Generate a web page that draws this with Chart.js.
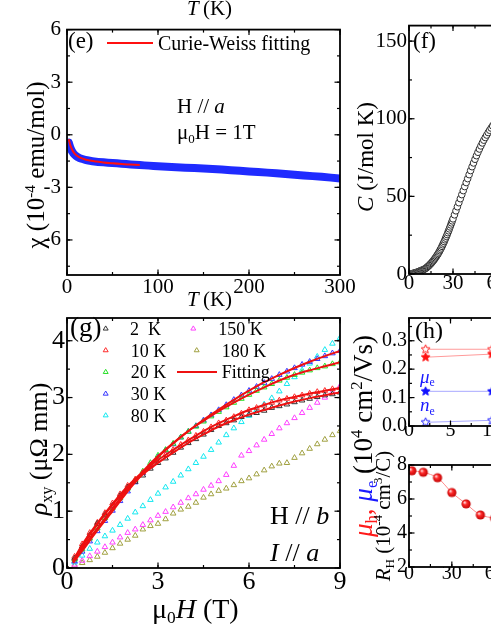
<!DOCTYPE html>
<html><head><meta charset="utf-8">
<script src="https://cdn.jsdelivr.net/npm/chart.js@4.4.0/dist/chart.umd.min.js"></script>
<style>
html,body{margin:0;padding:0;background:#fff;overflow:hidden;}
#wrap{position:relative;width:491px;height:635px;overflow:hidden;background:#fff;}
canvas{position:absolute;}
.t{position:absolute;white-space:nowrap;font-family:"Liberation Serif","Times New Roman",serif;line-height:1;color:#000;}
.t sup{font-size:0.62em;position:relative;top:-0.55em;vertical-align:baseline;line-height:0;}
.t sub{font-size:0.62em;position:relative;top:0.32em;vertical-align:baseline;line-height:0;}
</style></head>
<body><div id="wrap"></div>
<script>
// ---------------- DATA ----------------
// (e) susceptibility
const eT   = [2,3,4,5,6,7,8,10,12,15,20,25,30,40,50,60,70,80,90,100,120,140,160,180,200,220,240,260,280,300];
const eChi = [-0.45,-0.62,-0.77,-0.89,-0.98,-1.06,-1.12,-1.21,-1.28,-1.36,-1.43,-1.48,-1.52,-1.57,-1.61,-1.65,-1.69,-1.73,-1.76,-1.79,-1.85,-1.90,-1.95,-2.02,-2.09,-2.16,-2.24,-2.32,-2.40,-2.49];
const eFitT   = [2,3,4,5,6,8,10,12,15,20,25,30,40,50,60,70,80];
const eFitChi = [-0.26,-0.48,-0.65,-0.78,-0.89,-1.04,-1.15,-1.23,-1.32,-1.41,-1.47,-1.51,-1.58,-1.63,-1.67,-1.70,-1.73];
const eXTicks = [0,100,200,300];
const eYTicks = [-6,-3,0,3,6];

// (f) specific heat
const fT = [0.5,1,1.5,2,2.5,3,3.5,4,4.5,5,5.5,6,6.5,7,7.5,8,8.5,9,9.5,10,10.5,11,11.5,12,12.5,13,13.5,14,14.5,15,15.5,16,16.5,17,17.5,18,18.5,19,19.5,20,20.5,21,21.5,22,22.5,23,23.5,24,24.5,25,25.5,26,26.5,27,27.5,28,28.5,29,29.5,30,31,32,33,34,35,36,37,38,39,40,41,42,43,44,45,46,47,48,49,50,51,52,53,54,55,56,57,58,59,60];
const fC = [0.05,0.1,0.15,0.2,0.3,0.4,0.55,0.7,0.85,1.0,1.15,1.3,1.5,1.7,1.9,2.1,2.3,2.5,2.7,2.9,3.15,3.4,3.75,4.1,4.5,4.9,5.35,5.8,6.3,6.8,7.35,7.9,8.5,9.1,9.75,10.4,11.1,11.8,12.55,13.3,14.15,15.0,15.9,16.8,17.8,18.8,19.85,20.9,22.0,23.1,24.25,25.4,26.6,27.8,29.05,30.3,31.6,32.9,34.2,35.5,38.1,40.7,43.3,45.9,48.5,51.1,53.7,56.3,58.9,61.4,64.0,66.6,69.1,71.5,73.9,76.2,78.4,80.5,82.5,84.4,86.2,87.9,89.5,91.1,92.6,94.0,95.4,96.7,98.0,99.2];
const fXTicks = [0,30,60,90,120,150,180];
const fYTicks = [0,50,100,150];

// (g) Hall resistivity
const gH = [0,0.25,0.5,0.75,1,1.25,1.5,1.75,2,2.25,2.5,2.75,3,3.25,3.5,3.75,4,4.25,4.5,4.75,5,5.25,5.5,5.75,6,6.25,6.5,6.75,7,7.25,7.5,7.75,8,8.25,8.5,8.75,9];
const rho2K   = [0,0.17,0.38,0.58,0.78,0.94,1.10,1.27,1.42,1.52,1.63,1.75,1.85,1.93,2.03,2.12,2.20,2.27,2.35,2.43,2.50,2.55,2.60,2.66,2.70,2.73,2.77,2.82,2.85,2.88,2.92,2.95,2.98,3.01,3.04,3.06,3.09];
const rho10K  = [0,0.20,0.42,0.62,0.80,0.97,1.14,1.30,1.45,1.56,1.68,1.80,1.90,1.99,2.08,2.17,2.25,2.33,2.40,2.48,2.55,2.60,2.66,2.72,2.78,2.82,2.86,2.91,2.95,2.98,3.01,3.04,3.07,3.10,3.12,3.15,3.17];
const rho20K  = [0,0.15,0.33,0.52,0.70,0.88,1.06,1.23,1.40,1.55,1.70,1.85,1.98,2.08,2.19,2.30,2.40,2.49,2.58,2.67,2.75,2.83,2.91,2.98,3.05,3.12,3.18,3.24,3.30,3.35,3.40,3.44,3.48,3.52,3.55,3.59,3.62];
const rho30K  = [0,0.12,0.29,0.47,0.65,0.83,1.01,1.18,1.35,1.51,1.67,1.81,1.95,2.07,2.18,2.30,2.40,2.50,2.60,2.69,2.78,2.87,2.96,3.04,3.12,3.19,3.26,3.33,3.40,3.46,3.52,3.58,3.63,3.68,3.73,3.78,3.82];
const rho80K  = [0,0.10,0.22,0.34,0.45,0.56,0.66,0.76,0.87,0.98,1.09,1.20,1.31,1.42,1.52,1.63,1.74,1.85,1.96,2.08,2.21,2.34,2.46,2.57,2.68,2.78,2.88,2.99,3.11,3.24,3.36,3.48,3.60,3.72,3.84,3.95,4.05];
const rho150K = [0,0.06,0.13,0.21,0.29,0.37,0.45,0.54,0.62,0.68,0.76,0.84,0.92,0.99,1.07,1.15,1.23,1.30,1.38,1.45,1.53,1.64,1.80,1.98,2.06,2.16,2.26,2.36,2.46,2.55,2.64,2.73,2.82,2.91,3.00,3.10,3.20];
const rho180K = [0,0.04,0.09,0.14,0.20,0.27,0.35,0.43,0.50,0.57,0.68,0.74,0.78,0.86,0.96,1.03,1.08,1.15,1.24,1.30,1.36,1.40,1.46,1.53,1.58,1.65,1.72,1.79,1.84,1.85,1.94,2.02,2.10,2.18,2.26,2.34,2.41];
const fitH    = [0.2,0.5,1,1.5,2,2.5,3,3.5,4,4.5,5,5.5,6,6.5,7,7.5,8,8.5,9];
const fit2K   = [0.12,0.38,0.77,1.11,1.41,1.65,1.85,2.03,2.20,2.35,2.49,2.60,2.70,2.78,2.86,2.93,2.99,3.04,3.09];
const fit10K  = [0.13,0.41,0.79,1.13,1.44,1.69,1.90,2.08,2.25,2.41,2.55,2.67,2.78,2.87,2.95,3.01,3.07,3.12,3.17];
const fit20K  = [0.10,0.34,0.70,1.05,1.39,1.70,1.97,2.20,2.41,2.59,2.76,2.91,3.05,3.18,3.30,3.40,3.48,3.55,3.62];
const fit30K  = [0.09,0.30,0.66,1.00,1.35,1.66,1.95,2.19,2.41,2.61,2.79,2.96,3.12,3.27,3.40,3.52,3.63,3.73,3.82];
const gXTicks = [0,3,6,9];
const gYTicks = [0,1,2,3,4];

// (h) mobilities and Hall coefficient
const hT = [2,10];
const muHopen   = [0.270,0.270];
const muHfilled = [0.242,0.253];
const muEfilled = [0.122,0.122];
const nEopen    = [0.013,0.020];
const hXTicks = [0,5,10,15,20,25,30];
const hYTicks = [0,0.1,0.2,0.3];
const rhT = [2,10,20,30,40,50,60];
const rhR = [7.66,7.57,7.25,6.38,5.71,5.06,4.87];
const rXTicks = [0,30,60,90,120,150,180];
const rYTicks = [2,4,6,8];

// ---------------- HELPERS ----------------
const FONT = 'Liberation Serif';
const wrap = document.getElementById('wrap');
const pts = (xs, ys) => xs.map((x, i) => ({x, y: ys[i]}));

function framePlugin(cfg) {
  return {
    id: 'frame_' + cfg.name,
    afterDatasetsDraw(chart) {
      const {ctx, chartArea: a} = chart; const X = chart.scales.x, Y = chart.scales.y;
      ctx.save();
      ctx.strokeStyle = '#000';
      const seg = (x1,y1,x2,y2) => { ctx.beginPath(); ctx.moveTo(x1,y1); ctx.lineTo(x2,y2); ctx.stroke(); };
      const steps = (min, max, st) => { const o=[]; const n0=Math.ceil(min/st-1e-9), n1=Math.floor(max/st+1e-9); for (let k=n0;k<=n1;k++) o.push(k*st); return o; };
      const doX = (vals, len) => vals.forEach(v => { const p = X.getPixelForValue(v); if (p < a.left-0.5 || p > a.right+0.5) return; seg(p,a.bottom,p,a.bottom-len); seg(p,a.top,p,a.top+len); });
      const doY = (vals, len) => vals.forEach(v => { const p = Y.getPixelForValue(v); if (p < a.top-0.5 || p > a.bottom+0.5) return; seg(a.left,p,a.left+len,p); seg(a.right,p,a.right-len,p); });
      ctx.lineWidth = 1.2;
      if (cfg.xMinor) doX(steps(X.min, X.max, cfg.xMinor), 3);
      if (cfg.yMinor) doY(steps(Y.min, Y.max, cfg.yMinor), 3);
      doX(cfg.xMajor, 5.5); doY(cfg.yMajor, 5.5);
      ctx.lineWidth = 1.8;
      ctx.strokeRect(a.left, a.top, a.right-a.left, a.bottom-a.top);
      if (cfg.extra) cfg.extra(ctx, chart);
      ctx.restore();
    }
  };
}

function panel(name, rect, pad, xs, ys, datasets, extra) {
  const c = document.createElement('canvas');
  const W = rect.R - rect.L + pad.l + pad.r, H = rect.B - rect.T + pad.t + pad.b;
  c.width = W; c.height = H;
  c.style.left = (rect.L - pad.l) + 'px'; c.style.top = (rect.T - pad.t) + 'px';
  c.style.width = W + 'px'; c.style.height = H + 'px';
  wrap.appendChild(c);
  const ox = rect.L - pad.l, oy = rect.T - pad.t;
  return new Chart(c, {
    type: 'scatter',
    data: {datasets},
    options: {
      responsive: false, animation: false, devicePixelRatio: 1,
      layout: {padding: {top: pad.t, right: pad.r, left: 0, bottom: 0}},
      plugins: {legend: {display: false}, tooltip: {enabled: false}},
      scales: {
        x: {type: 'linear', min: xs.min, max: xs.max, grid: {display: false, drawTicks: false}, border: {display: false},
            afterBuildTicks: s => { s.ticks = xs.ticks.map(v => ({value: v})); },
            afterFit: s => { s.height = pad.b; },
            ticks: {font: {family: FONT, size: xs.fs}, color: '#000', padding: xs.pad, maxRotation: 0, autoSkip: false,
                    callback: v => xs.fmt ? xs.fmt(v) : String(v)}},
        y: {type: 'linear', min: ys.min, max: ys.max, grid: {display: false, drawTicks: false}, border: {display: false},
            afterBuildTicks: s => { s.ticks = ys.ticks.map(v => ({value: v})); },
            afterFit: s => { s.width = pad.l; },
            ticks: {font: {family: FONT, size: ys.fs}, color: '#000', padding: ys.pad, autoSkip: false,
                    callback: v => ys.fmt ? ys.fmt(v) : String(v)}}
      }
    },
    plugins: [framePlugin({name, xMinor: xs.minor, yMinor: ys.minor, xMajor: xs.ticks, yMajor: ys.ticks,
                           extra: extra ? (ctx, ch) => extra(ctx, ch, ox, oy) : null})]
  });
}

function tri(ctx, x, y, r, color) {
  ctx.save(); ctx.strokeStyle = color; ctx.lineWidth = 1;
  ctx.beginPath(); ctx.moveTo(x, y - r); ctx.lineTo(x + r*0.95, y + r*0.6); ctx.lineTo(x - r*0.95, y + r*0.6); ctx.closePath(); ctx.stroke();
  ctx.restore();
}
function starImg(fill, stroke, r) {
  const s = Math.ceil(r*2 + 3); const c = document.createElement('canvas'); c.width = c.height = s;
  const g = c.getContext('2d'); g.beginPath();
  for (let i = 0; i < 10; i++) { const rr = i % 2 ? r*0.45 : r; const a = -Math.PI/2 + i*Math.PI/5; g.lineTo(s/2 + rr*Math.cos(a), s/2 + rr*Math.sin(a)); }
  g.closePath(); g.fillStyle = fill; g.fill(); g.strokeStyle = stroke; g.lineWidth = 1; g.stroke();
  return c;
}
function sphereImg(r) {
  const s = Math.ceil(r*2 + 2); const c = document.createElement('canvas'); c.width = c.height = s;
  const g = c.getContext('2d'); const m = s/2;
  const gr = g.createRadialGradient(m - r*0.35, m - r*0.35, 0.5, m, m, r);
  gr.addColorStop(0, '#ffd8d8'); gr.addColorStop(0.35, '#ff2a2a'); gr.addColorStop(1, '#c00000');
  g.beginPath(); g.arc(m, m, r, 0, Math.PI*2); g.fillStyle = gr; g.fill();
  return c;
}
function txt(html, x, base, fs, color) {
  const d = document.createElement('div'); d.className = 't'; d.innerHTML = html;
  d.style.left = x + 'px'; d.style.top = (base - 0.8375*fs) + 'px'; d.style.fontSize = fs + 'px';
  if (color) d.style.color = color;
  wrap.appendChild(d);
}

// ---------------- PANEL (e) ----------------
panel('e', {L:67, T:25, R:340, B:275}, {l:67, t:14, r:22, b:30},
  {min:0, max:300, ticks:eXTicks, minor:50, fs:21, pad:0},
  {min:-8, max:6, ticks:eYTicks, minor:1.5, fs:21, pad:6},
  [
    {data: pts(eFitT, eFitChi), showLine: true, borderColor: '#ff1010', borderWidth: 2, pointRadius: 0, tension: 0.4},
    {data: pts(eT, eChi), showLine: true, borderColor: '#1f2bff', borderWidth: 8, pointRadius: 0, tension: 0.3, borderCapStyle: 'round', borderJoinStyle: 'round'}
  ],
  (ctx, ch, ox, oy) => { ctx.strokeStyle = '#ff1010'; ctx.lineWidth = 2; ctx.beginPath(); ctx.moveTo(107-ox, 43-oy); ctx.lineTo(153-ox, 43-oy); ctx.stroke(); }
);

// ---------------- PANEL (f) ----------------
panel('f', {L:409, T:25, R:409+264, B:274}, {l:50, t:14, r:20, b:30},
  {min:0, max:180, ticks:fXTicks, minor:15, fs:21, pad:-3},
  {min:0, max:160, ticks:fYTicks, minor:25, fs:21, pad:2},
  [
    {data: pts(fT, fC), showLine: false, pointStyle: 'circle', pointRadius: 3.3, borderWidth: 1, borderColor: '#2e2e2e', backgroundColor: '#ffffff'}
  ]
);

// ---------------- PANEL (g) ----------------
const gCols = {k2:'#333333', k10:'#ff2a2a', k20:'#26e026', k30:'#3535ff', k80:'#12e8f0', k150:'#ff40ff', k180:'#a0a040'};
const triDs = (ys, col) => ({data: pts(gH, ys), showLine: false, pointStyle: 'triangle', pointRadius: 3.2, borderWidth: 1, borderColor: col, backgroundColor: 'rgba(0,0,0,0)'});
const fitDs = ys => ({data: pts(fitH, ys), showLine: true, borderColor: '#ee1111', borderWidth: 2, pointRadius: 0, cubicInterpolationMode: 'monotone'});
panel('g', {L:67, T:318, R:340, B:568}, {l:67, t:18, r:20, b:30},
  {min:0, max:9, ticks:gXTicks, minor:1.5, fs:26, pad:-1},
  {min:0, max:4.4, ticks:gYTicks, minor:0.5, fs:26, pad:2},
  [
    fitDs(fit30K), fitDs(fit20K), fitDs(fit10K), fitDs(fit2K),
    triDs(rho2K, gCols.k2), triDs(rho10K, gCols.k10), triDs(rho20K, gCols.k20), triDs(rho30K, gCols.k30),
    triDs(rho80K, gCols.k80), triDs(rho150K, gCols.k150), triDs(rho180K, gCols.k180)
  ],
  (ctx, ch, ox, oy) => {
    const rows = [328.5, 350.2, 371.9, 393.6, 415.3];
    [gCols.k2, gCols.k10, gCols.k20, gCols.k30, gCols.k80].forEach((c, i) => tri(ctx, 105.7-ox, rows[i]-oy, 2.6, c));
    tri(ctx, 193.3-ox, rows[0]-oy, 2.6, gCols.k150);
    tri(ctx, 196.7-ox, rows[1]-oy, 2.6, gCols.k180);
    ctx.strokeStyle = '#ee1111'; ctx.lineWidth = 2; ctx.beginPath(); ctx.moveTo(177-ox, rows[2]-oy); ctx.lineTo(217-ox, rows[2]-oy); ctx.stroke();
  }
);

// ---------------- PANEL (h) top ----------------
const sR = 4.6;
panel('h1', {L:409, T:318, R:409+249, B:426}, {l:50, t:14, r:20, b:30},
  {min:0, max:30, ticks:hXTicks, minor:2.5, fs:20, pad:-7},
  {min:0, max:0.38, ticks:hYTicks, minor:0.05, fs:20, pad:2, fmt: v => v.toFixed(1)},
  [
    {data: pts(hT, muHopen), showLine: true, borderColor: '#ff9a9a', borderWidth: 1, pointStyle: starImg('#ffffff', '#ff2020', sR), pointRadius: sR},
    {data: pts(hT, muHfilled), showLine: true, borderColor: '#ff9a9a', borderWidth: 1, pointStyle: starImg('#ff1010', '#ff1010', sR), pointRadius: sR},
    {data: pts(hT, muEfilled), showLine: true, borderColor: '#a8a8ff', borderWidth: 1, pointStyle: starImg('#1010ff', '#1010ff', sR), pointRadius: sR},
    {data: pts(hT, nEopen), showLine: true, borderColor: '#a8a8ff', borderWidth: 1, pointStyle: starImg('#ffffff', '#2020ff', sR), pointRadius: sR}
  ]
);

// ---------------- PANEL (h) bottom ----------------
panel('h2', {L:409, T:465, R:409+257, B:567}, {l:50, t:14, r:20, b:30},
  {min:0, max:180, ticks:rXTicks, minor:15, fs:20, pad:-5},
  {min:2, max:8, ticks:rYTicks, minor:1, fs:20, pad:2},
  [
    {data: pts(rhT, rhR), showLine: true, borderColor: '#ff8c8c', borderWidth: 1, pointStyle: sphereImg(4.6), pointRadius: 4.6, tension: 0.3}
  ]
);

// ---------------- VERTICAL AXIS TITLES (rotated canvas text) ----------------
const ov = document.createElement('canvas');
ov.width = 491; ov.height = 635; ov.style.left = '0px'; ov.style.top = '0px'; ov.style.width = '491px'; ov.style.height = '635px';
wrap.appendChild(ov);
const oc = ov.getContext('2d');
function vTitle(segs, baseX, cy, fs) {
  let total = 0;
  const items = segs.map(s => {
    const size = s.p ? fs*0.62 : fs;
    const font = (s.i ? 'italic ' : '') + size + 'px "Liberation Serif"';
    oc.font = font; const w = oc.measureText(s.t).width; total += w;
    return Object.assign({}, s, {size, font, w});
  });
  oc.save(); oc.translate(baseX, cy); oc.rotate(-Math.PI/2);
  oc.textBaseline = 'alphabetic'; oc.textAlign = 'left';
  let u = -total/2;
  items.forEach(s => {
    oc.font = s.font; oc.fillStyle = s.c || '#000';
    const dy = s.p === 'sup' ? -0.36*fs : (s.p === 'sub' ? 0.2*fs : 0);
    oc.fillText(s.t, u, dy); u += s.w;
  });
  oc.restore();
}
const RED = '#ff1a1a', BLUE = '#1a1aff';
vTitle([{t:'χ (10'}, {t:'-4', p:'sup'}, {t:' emu/mol)'}], 44, 165, 25);
vTitle([{t:'C', i:1}, {t:' (J/mol K)'}], 373, 157, 23);
vTitle([{t:'ρ', i:1}, {t:'xy', p:'sub'}, {t:' (μΩ mm)'}], 47, 449, 26);
vTitle([{t:'μ', i:1, c:RED}, {t:'h', p:'sub', c:RED}, {t:', ', c:RED}, {t:'μ', i:1, c:BLUE}, {t:'e', p:'sub', c:BLUE},
        {t:' (10'}, {t:'4', p:'sup'}, {t:' cm'}, {t:'2', p:'sup'}, {t:'/Vs)'}], 371.5, 436, 27);
vTitle([{t:'R', i:1}, {t:'H', p:'sub'}, {t:' (10'}, {t:'-4', p:'sup'}, {t:' cm'}, {t:'3', p:'sup'}, {t:'/C)'}], 390, 516, 21);

// ---------------- TEXT ----------------
txt('<i>T</i>&#8201;(K)', 187, 16, 21);
txt('(e)', 68, 48, 23);
txt('Curie-Weiss fitting', 158, 50, 20);
txt('H // <i>a</i>', 177, 113.5, 21);
txt('μ<sub>0</sub>H = 1T', 177, 139.5, 21);
txt('<i>T</i>&#8201;(K)', 187, 307, 21);

txt('(f)', 413, 48, 23);

txt('(g)', 70, 337, 27);
txt('2&nbsp;&nbsp;K', 130, 335, 18);
txt('10 K', 130.7, 356.7, 18);
txt('20 K', 130.7, 378.3, 18);
txt('30 K', 130.7, 400, 18);
txt('80 K', 130.7, 421.7, 18);
txt('150 K', 218.3, 335, 18);
txt('180 K', 221.7, 356.7, 18);
txt('Fitting', 221.7, 378.3, 18);
txt('H // <i>b</i>', 270, 525, 26);
txt('<i>I</i> // <i>a</i>', 270, 562, 26);
txt('μ<sub>0</sub><i>H</i> (T)', 152, 618, 28);

txt('(h)', 415, 338, 24);
txt('<i>μ</i><sub>e</sub>', 420, 382.5, 19, BLUE);
txt('<i>n</i><sub>e</sub>', 420, 411, 19, BLUE);
</script>
</body></html>
